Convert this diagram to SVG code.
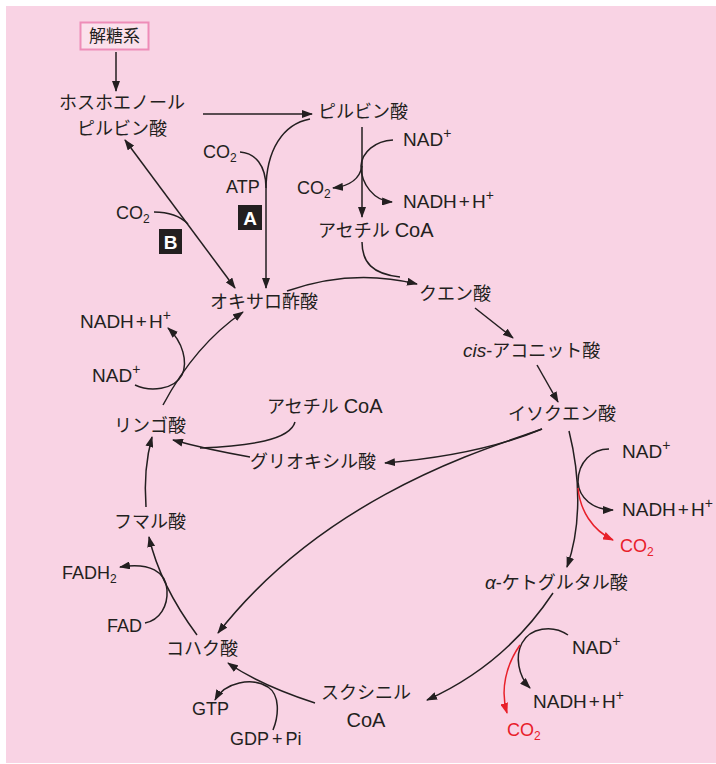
<svg xmlns="http://www.w3.org/2000/svg" width="716" height="764" viewBox="0 0 716 764">
<defs>
<marker id="ah" markerUnits="userSpaceOnUse" markerWidth="11" markerHeight="8" refX="10" refY="4" orient="auto-start-reverse"><path d="M0,0 L11,4 L0,8 z" fill="#231F20"/></marker>
<marker id="ahr" markerUnits="userSpaceOnUse" markerWidth="11" markerHeight="8" refX="10" refY="4" orient="auto"><path d="M0,0 L11,4 L0,8 z" fill="#E8202A"/></marker>
<style>
text{font-family:"Liberation Sans","Noto Sans CJK JP",sans-serif;fill:#231F20}
.n{font-size:18px}
.m{font-size:19px}
.s{font-size:18px}
.c{text-anchor:middle}
.red{fill:#E8202A}
.sup{font-size:14px}
.sub{font-size:12px}
.coa{font-size:20px}
.lbl{font-size:19px;font-weight:bold;fill:#fff;text-anchor:middle}
.ln{fill:none;stroke:#231F20;stroke-width:1.5}
.ar{marker-end:url(#ah)}
.rl{fill:none;stroke:#E8202A;stroke-width:1.5;marker-end:url(#ahr)}
</style>
</defs>
<rect x="6" y="6" width="710" height="757" fill="#F9D3E4"/>

<g id="connectors">
<path class="ln ar" d="M116,52 L116,91"/>
<path class="ln ar" d="M203,114 L312,114"/>
<path class="ln ar" d="M310,119 C283,124 266,150 266,190 L266,288"/>
<path class="ln" d="M240,152 C255,153 266,165 266,188"/>
<path class="ln ar" style="marker-start:url(#ah)" d="M125,140 L235,288"/>
<path class="ln" d="M154,212 C168,212 180,216 188,224"/>
<path class="ln ar" d="M362,127 L362,217"/>
<path class="ln ar" d="M393,140 C375,141 362,152 361,166 C361,184 374,201 392,202"/>
<path class="ln ar" d="M362,166 C360,178 350,186 333,188"/>
<path class="ln" d="M362,242 C362,262 372,274 400,277"/>
<path class="ln ar" d="M287,291 Q352,268 417,284"/>
<path class="ln ar" d="M475,308 L513,338"/>
<path class="ln ar" d="M537,365 L558,402"/>
<path class="ln ar" d="M569,431 C580,475 582,525 567,567"/>
<path class="ln ar" d="M609,449 C592,449 578,462 578,482 C579,498 593,510 613,510"/>
<path class="rl" d="M578,488 C580,510 592,530 613,540"/>
<path class="ln ar" d="M553,593 Q505,665 427,700"/>
<path class="ln ar" d="M568,635 C552,624 530,628 522,643 C515,656 518,676 530,688"/>
<path class="rl" d="M520,645 C506,665 500,690 507,713"/>
<path class="ln ar" d="M542,429 Q480,455 385,463"/>
<path class="ln ar" d="M542,429 C500,445 330,490 218,633"/>
<path class="ln ar" d="M163,405 Q195,345 243,312"/>
<path class="ln ar" d="M135,385 C150,392 174,390 182,375 C188,362 183,342 168,328"/>
<path class="ln" d="M295,422 C290,440 250,446 200,448"/>
<path class="ln ar" d="M250,457 Q205,449 173,440"/>
<path class="ln ar" d="M146,507 C144,480 147,455 152,437"/>
<path class="ln ar" d="M197,635 Q160,585 149,537"/>
<path class="ln ar" d="M145,623 C160,620 168,606 167,590 C166,572 150,562 120,567"/>
<path class="ln ar" d="M315,703 Q260,685 228,663"/>
<path class="ln ar" d="M273,730 C279,715 280,695 268,687 C252,677 225,682 215,700"/>
</g>

<g id="glycolysis">
<rect x="80.5" y="22.5" width="68" height="27" fill="#FBE1EC" stroke="#EE8DB8" stroke-width="2"/>
<text class="n c" x="114.5" y="42" style="font-size:17px">解糖系</text>
</g>
<g id="pep">
<text class="n c" x="122" y="109">ホスホエノール</text>
<text class="n c" x="122" y="135">ピルビン酸</text>
</g>
<g id="pyruvate"><text class="n c" x="363" y="118">ピルビン酸</text></g>
<g id="co2-a"><text class="s" x="203" y="158">CO<tspan class="sub" dy="4">2</tspan></text></g>
<g id="atp"><text class="s" x="226" y="193">ATP</text></g>
<g id="label-a"><rect x="238" y="205" width="24" height="25" fill="#231F20"/><text class="lbl" x="250" y="225">A</text></g>
<g id="co2-b"><text class="s" x="116" y="219">CO<tspan class="sub" dy="4">2</tspan></text></g>
<g id="label-b"><rect x="159" y="229" width="23" height="25" fill="#231F20"/><text class="lbl" x="170.5" y="249">B</text></g>
<g id="nad-1"><text class="m" x="403" y="146">NAD<tspan class="sup" dy="-8">+</tspan></text></g>
<g id="co2-1"><text class="s" x="297" y="194">CO<tspan class="sub" dy="4">2</tspan></text></g>
<g id="nadh-1"><text class="m" x="403" y="208">NADH<tspan dx="2">+</tspan><tspan dx="2">H</tspan><tspan class="sup" dy="-8">+</tspan></text></g>
<g id="acetylcoa-1"><text class="n" x="318" y="237">アセチル <tspan class="coa">CoA</tspan></text></g>
<g id="citrate"><text class="n c" x="455" y="300">クエン酸</text></g>
<g id="oxaloacetate"><text class="n c" x="264" y="308">オキサロ酢酸</text></g>
<g id="cis-aconitate"><text class="n" x="463" y="357"><tspan font-style="italic" font-size="19">cis</tspan>-アコニット酸</text></g>
<g id="isocitrate"><text class="n c" x="562" y="420">イソクエン酸</text></g>
<g id="nad-2"><text class="m" x="622" y="458">NAD<tspan class="sup" dy="-8">+</tspan></text></g>
<g id="nadh-2"><text class="m" x="622" y="516">NADH<tspan dx="2">+</tspan><tspan dx="2">H</tspan><tspan class="sup" dy="-8">+</tspan></text></g>
<g id="co2-2"><text class="s red" x="620" y="552">CO<tspan class="sub" dy="4">2</tspan></text></g>
<g id="akg"><text class="n" x="485" y="589"><tspan font-style="italic" font-size="19">α</tspan>-ケトグルタル酸</text></g>
<g id="nad-3"><text class="m" x="572" y="654">NAD<tspan class="sup" dy="-8">+</tspan></text></g>
<g id="nadh-3"><text class="m" x="533" y="708">NADH<tspan dx="2">+</tspan><tspan dx="2">H</tspan><tspan class="sup" dy="-8">+</tspan></text></g>
<g id="co2-3"><text class="s red" x="507" y="736">CO<tspan class="sub" dy="4">2</tspan></text></g>
<g id="succinylcoa">
<text class="n c" x="366" y="699">スクシニル</text>
<text class="coa c" x="366" y="727">CoA</text>
</g>
<g id="succinate"><text class="n c" x="202" y="655">コハク酸</text></g>
<g id="gtp"><text class="s" x="192" y="715">GTP</text></g>
<g id="gdp"><text class="s" x="230" y="745">GDP<tspan dx="3">+</tspan><tspan dx="3">Pi</tspan></text></g>
<g id="fad"><text class="s" x="107" y="632">FAD</text></g>
<g id="fadh2"><text class="s" x="62" y="579">FADH<tspan class="sub" dy="4">2</tspan></text></g>
<g id="fumarate"><text class="n c" x="150" y="528">フマル酸</text></g>
<g id="malate"><text class="n c" x="150" y="432">リンゴ酸</text></g>
<g id="nad-4"><text class="m" x="92" y="382">NAD<tspan class="sup" dy="-8">+</tspan></text></g>
<g id="nadh-4"><text class="m" x="80" y="328">NADH<tspan dx="2">+</tspan><tspan dx="2">H</tspan><tspan class="sup" dy="-8">+</tspan></text></g>
<g id="acetylcoa-2"><text class="n" x="267" y="413">アセチル <tspan class="coa">CoA</tspan></text></g>
<g id="glyoxylate"><text class="n" x="250" y="468">グリオキシル酸</text></g>
</svg>
